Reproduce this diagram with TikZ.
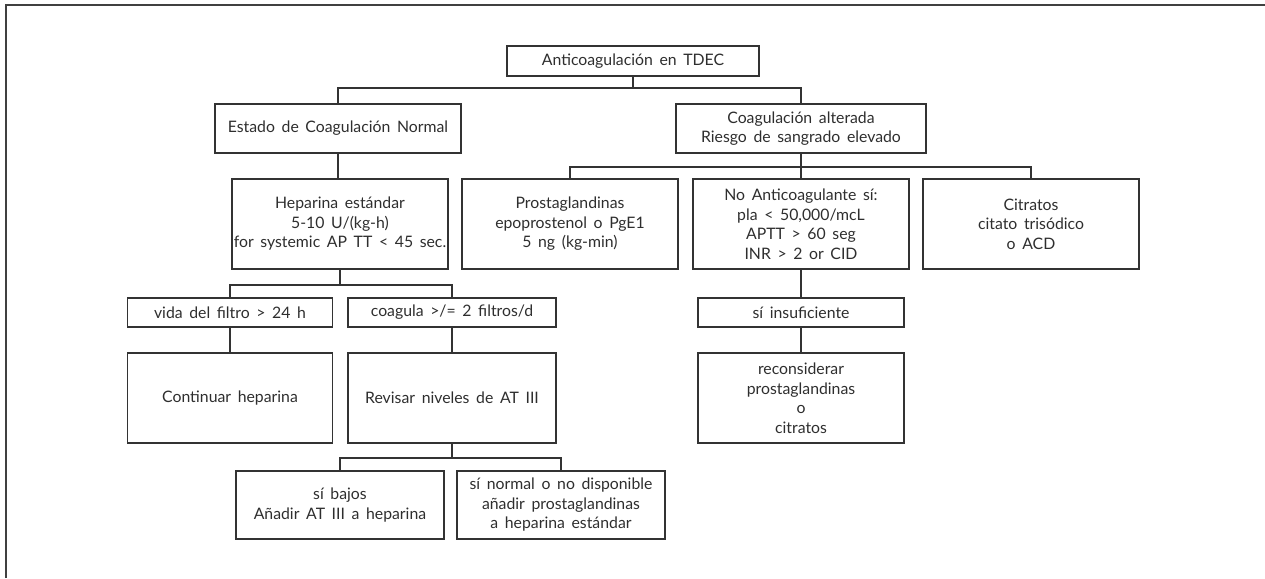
\documentclass[tikz,border=0pt]{standalone}
\usepackage{fontspec}
\setmainfont{Lato}
\newcommand{\boxfont}{\fontsize{15.8}{19.5}\selectfont\spaceskip=0.42em plus 0.1em minus 0.05em\relax}
\begin{document}
\begin{tikzpicture}[x=1pt,y=-1pt,
  box/.style={draw=black!80, line width=1.7pt, rectangle, inner sep=0pt,
    align=center, text=black!82, font=\boxfont},
  link/.style={draw=black!80, line width=1.7pt},
  frame/.style={draw=black!75, line width=1.4pt}]
\useasboundingbox (0,0) rectangle (1265,578);
% page frame (top and left edges)
\draw[frame] (6,578) -- (6,5) -- (1265,5);

% level 0
\node[box, minimum width=252, minimum height=30] (root) at (633,61) {Anticoagulación en TDEC};
% level 1
\node[box, minimum width=246, minimum height=49] (normal) at (338,128.5) {Estado de Coagulación Normal};
\node[box, minimum width=250, minimum height=49] (alter) at (801,128.5) {Coagulación alterada\\Riesgo de sangrado elevado};
% level 2
\node[box, minimum width=216, minimum height=90] (hep) at (340,224) {Heparina estándar\\5-10 U/(kg-h)\\for systemic AP TT < 45 sec.};
\node[box, minimum width=216, minimum height=90] (prost) at (570,224) {Prostaglandinas\\epoprostenol o PgE1\\5 ng (kg-min)};
\node[box, minimum width=216, minimum height=90] (noanti) at (801,224) {No Anticoagulante sí:\\pla < 50,000/mcL\\APTT > 60 seg\\INR > 2 or CID};
\node[box, minimum width=216, minimum height=90] (citr) at (1031,224) {Citratos\\citato trisódico\\o ACD};
% level 3
\node[box, minimum width=205, minimum height=29] (vida) at (230,312.5) {vida del filtro > 24 h};
\node[box, minimum width=208, minimum height=29] (coag) at (452,312.5) {coagula >/= 2 filtros/d};
\node[box, minimum width=206, minimum height=29] (insuf) at (801,312.5) {sí insuficiente};
% level 4
\node[box, minimum width=205, minimum height=90] (cont) at (230,398) {Continuar heparina};
\node[box, minimum width=208, minimum height=90] (revis) at (452,398) {Revisar niveles de AT III};
\node[box, minimum width=206, minimum height=90] (recon) at (801,398) {reconsiderar\\prostaglandinas\\o\\citratos};
% level 5
\node[box, minimum width=208, minimum height=68] (bajos) at (340,505) {sí bajos\\Añadir AT III a heparina};
\node[box, minimum width=208, minimum height=68] (snorm) at (561,505) {sí normal o no disponible\\añadir prostaglandinas\\a heparina estándar};

% junctions
\coordinate (j0) at (root.south |- 0,88);
\coordinate (j1) at (alter.south |- 0,167);
\coordinate (j2) at (hep.south |- 0,285);
\coordinate (j3) at (revis.south |- 0,458);

% connectors
\draw[link] (root.south) -- (j0);
\draw[link] (j0) -| (normal.north);
\draw[link] (j0) -| (alter.north);
\draw[link] (normal.south) -- (normal.south |- hep.north);
\draw[link] (alter.south) -- (j1);
\draw[link] (j1) -| (prost.north);
\draw[link] (j1) -| (noanti.north);
\draw[link] (j1) -| (citr.north);
\draw[link] (hep.south) -- (j2);
\draw[link] (j2) -| (vida.north);
\draw[link] (j2) -| (coag.north);
\draw[link] (vida.south) -- (cont.north);
\draw[link] (coag.south) -- (revis.north);
\draw[link] (revis.south) -- (j3);
\draw[link] (j3) -| (bajos.north);
\draw[link] (j3) -| (snorm.north);
\draw[link] (noanti.south) -- (insuf.north);
\draw[link] (insuf.south) -- (recon.north);
\end{tikzpicture}
\end{document}
